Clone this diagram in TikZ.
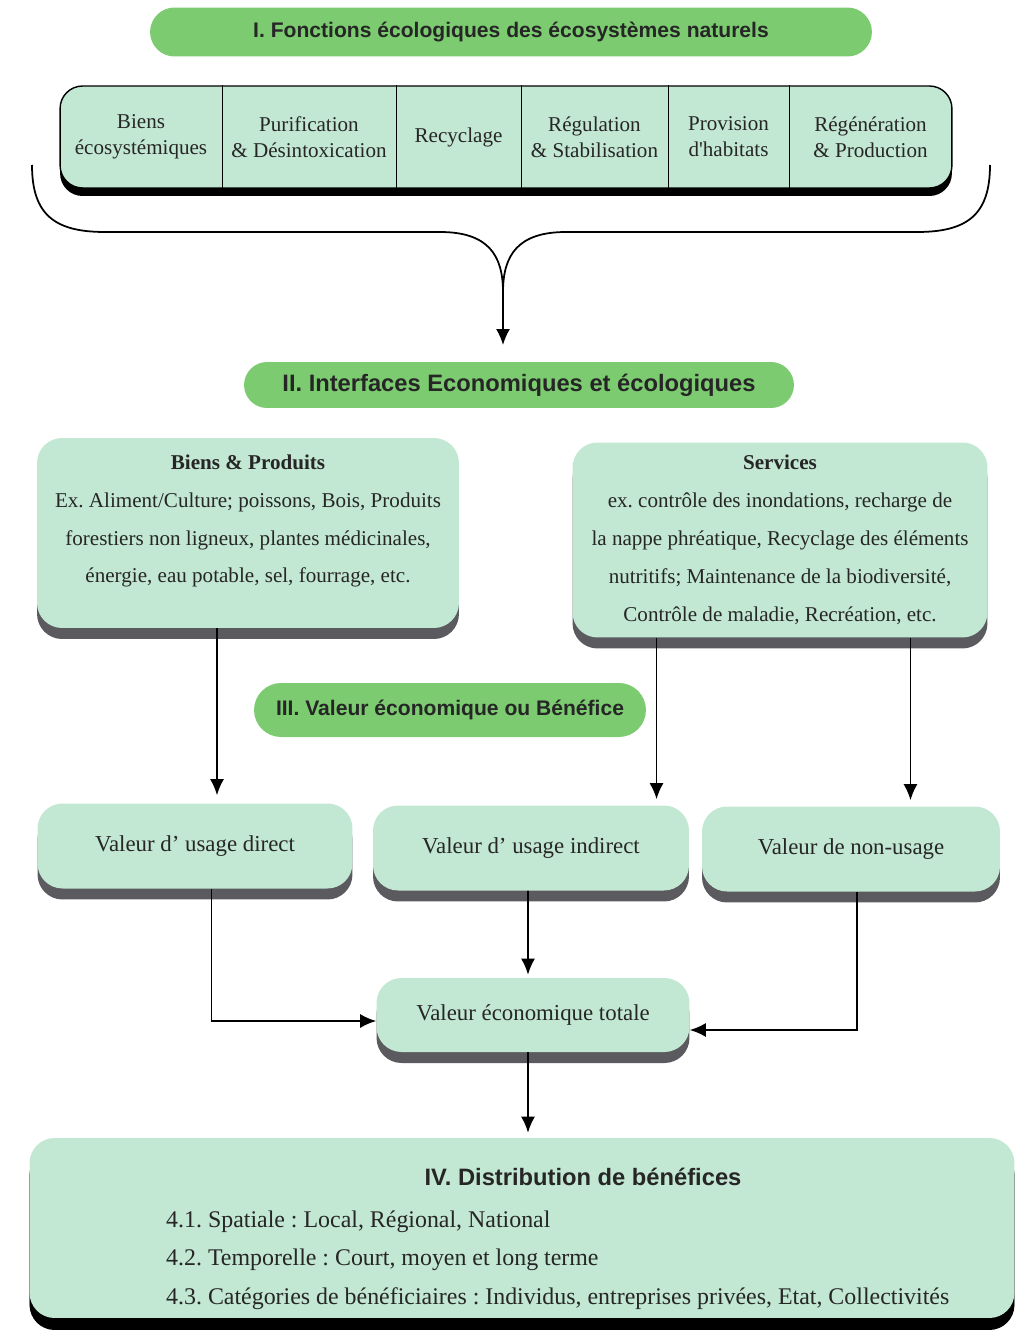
\documentclass[tikz,border=0pt]{standalone}
\usepackage{fontspec}
\setmainfont{Liberation Serif}
\newfontfamily\titrefont{Liberation Sans}
\usetikzlibrary{shapes.misc, shadows, arrows.meta}
\definecolor{vertfonce}{RGB}{124,203,112}
\definecolor{vertclair}{RGB}{194,231,210}
\definecolor{ombre}{RGB}{90,90,95}
\frenchspacing

\begin{document}
\begin{tikzpicture}[x=0.02cm, y=-0.02cm, text=black!85,
        titre/.style={rounded rectangle, fill=vertfonce, inner sep=0pt, font=\titrefont\bfseries\fontsize{12}{14}\selectfont},
        boite/.style={rectangle, fill=vertclair, rounded corners=0.5cm, drop shadow={shadow xshift=0cm, shadow yshift=-0.22cm, fill=ombre, opacity=1}},
        rangee/.style={rectangle, draw=black, line width=0.8pt, fill=vertclair, rounded corners=0.45cm, drop shadow={shadow xshift=0cm, shadow yshift=-0.16cm, fill=black, opacity=1}},
        cellule/.style={minimum height=2.04cm, inner sep=0pt, align=center, font=\fontsize{12}{14.8}\selectfont},
        texte/.style={align=center, font=\fontsize{12}{21.6}\selectfont},
        valeur/.style={boite, minimum height=1.7cm, font=\fontsize{13}{15}\selectfont},
        fleche/.style={-{Latex[length=0.32cm, width=0.28cm]}, line width=1pt}]

    \useasboundingbox (0,0) rectangle (1031,1338);

    \node[titre, minimum width=14.44cm, minimum height=0.98cm] (titreI) at (511,32) {I. Fonctions écologiques des écosystèmes naturels};

    \node[rangee, minimum width=17.84cm, minimum height=2.04cm] (rangee) at (506,137) {};
    \node[cellule, minimum width=3.24cm] (biensEco) at (141,137) {Biens\\écosystémiques};
    \node[cellule, minimum width=3.48cm] (purif) at (309,137) {Purification\\\& Désintoxication};
    \node[cellule, minimum width=2.5cm] (recyc) at (458.5,137) {Recyclage};
    \node[cellule, minimum width=2.94cm] (regul) at (594.5,137) {Régulation\\\& Stabilisation};
    \node[cellule, minimum width=2.42cm] (habitat) at (728.5,137) {Provision\\d\textquotesingle habitats};
    \node[cellule, minimum width=3.26cm] (regen) at (870.5,137) {Régénération\\\& Production};
    \draw[line width=0.8pt] (biensEco.east |- rangee.north) -- (biensEco.east |- rangee.south);
    \draw[line width=0.8pt] (purif.east |- rangee.north) -- (purif.east |- rangee.south);
    \draw[line width=0.8pt] (recyc.east |- rangee.north) -- (recyc.east |- rangee.south);
    \draw[line width=0.8pt] (regul.east |- rangee.north) -- (regul.east |- rangee.south);
    \draw[line width=0.8pt] (habitat.east |- rangee.north) -- (habitat.east |- rangee.south);

    \coordinate (accG) at (32,165);
    \coordinate (accD) at (990,165);
    \coordinate (pointe) at (503,292);
    \coordinate (bout) at (503,345);
    \draw[line width=1pt] (accG) .. controls (32,215) and (55,232) .. (105,232) -- (440,232) .. controls (488,232) and (503,255) .. (pointe);
    \draw[line width=1pt] (accD) .. controls (990,215) and (967,232) .. (917,232) -- (566,232) .. controls (518,232) and (503,255) .. (pointe);
    \draw[fleche] (pointe) -- (bout);

    \node[titre, minimum width=11cm, minimum height=0.92cm, font=\titrefont\bfseries\fontsize{13.5}{16}\selectfont] (titreII) at (519,385) {II. Interfaces Economiques et écologiques};

    \node[boite, minimum width=8.44cm, minimum height=3.8cm] (biens) at (248,533) {};
    \node[texte] (biensTxt) at (248,521) {\textbf{Biens \& Produits}\\Ex. Aliment/Culture; poissons, Bois, Produits\\forestiers non ligneux, plantes médicinales,\\énergie, eau potable, sel, fourrage, etc.};
    \node[boite, texte, minimum width=8.3cm, minimum height=3.9cm] (services) at (780,540) {\textbf{Services}\\ex. contrôle des inondations, recharge de\\la nappe phréatique, Recyclage des éléments\\nutritifs; Maintenance de la biodiversité,\\Contrôle de maladie, Recréation, etc.};

    \node[titre, minimum width=7.84cm, minimum height=1.08cm] (titreIII) at (450,710) {III. Valeur économique ou Bénéfice};

    \node[valeur, minimum width=6.3cm] (direct) at (195,846) {Valeur d’ usage direct};
    \node[valeur, minimum width=6.32cm] (indirect) at (531,848) {Valeur d’ usage indirect};
    \node[valeur, minimum width=5.96cm] (nonusage) at (851,849) {Valeur de non-usage};
    \node[valeur, minimum width=6.26cm, minimum height=1.48cm] (totale) at (533,1015) {Valeur économique totale};

    \node[boite, minimum width=19.7cm, minimum height=3.6cm, drop shadow={shadow xshift=0cm, shadow yshift=-0.24cm, fill=black, opacity=1}] (distrib) at (522,1228) {};
    \node[font=\titrefont\bfseries\fontsize{13.5}{16}\selectfont] (titreIV) at (583,1177) {IV. Distribution de bénéfices};
    \node[anchor=west, align=left, font=\fontsize{13.6}{21.9}\selectfont] (distribTxt) at (160,1260) {4.1. Spatiale : Local, Régional, National\\4.2. Temporelle : Court, moyen et long terme\\4.3. Catégories de bénéficiaires : Individus, entreprises privées, Etat, Collectivités};

    \draw[fleche, shorten >=0.16cm] ([xshift=-0.62cm]biens.south) -- ([xshift=-0.62cm]biens.south |- direct.north);
    \draw[fleche, shorten >=0.12cm] ([xshift=-2.47cm]services.south) -- ([xshift=-2.47cm]services.south |- indirect.north);
    \draw[fleche, shorten >=0.12cm] ([xshift=2.61cm]services.south) -- ([xshift=2.61cm]services.south |- nonusage.north);
    \draw[fleche] ([xshift=0.33cm]direct.south) |- ([yshift=-0.12cm]totale.west);
    \draw[fleche, shorten >=0.06cm] ([xshift=-0.06cm]indirect.south) -- ([xshift=-0.1cm]totale.north);
    \draw[fleche] ([xshift=0.12cm]nonusage.south) |- ([yshift=-0.3cm]totale.east);
    \draw[fleche, shorten >=0.1cm] ([xshift=-0.1cm]totale.south) -- ([xshift=-0.1cm]totale.south |- distrib.north);
\end{tikzpicture}
\end{document}
